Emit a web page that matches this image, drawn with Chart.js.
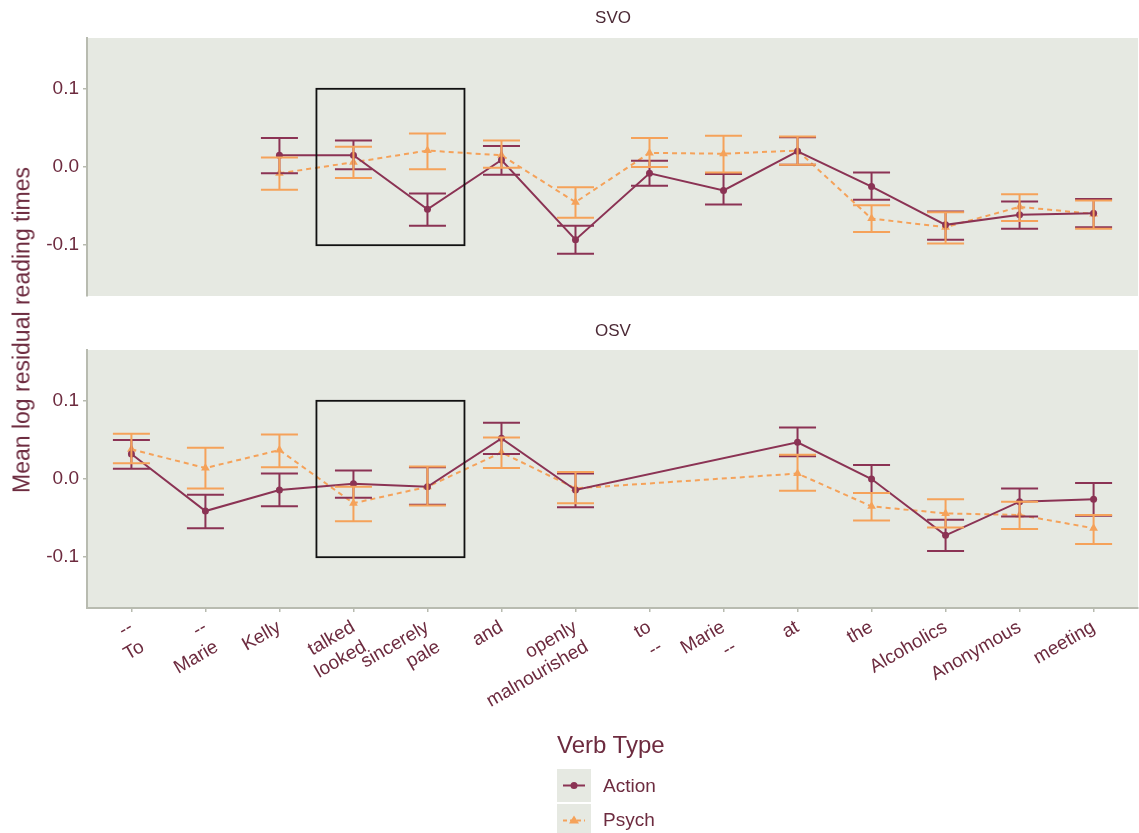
<!DOCTYPE html>
<html>
<head>
<meta charset="utf-8">
<script src="https://cdn.jsdelivr.net/npm/chart.js@4.4.1/dist/chart.umd.min.js"></script>
<style>
  html, body { margin: 0; padding: 0; background: #ffffff; }
  #wrap { position: relative; width: 1139px; height: 833px; overflow: hidden;
          font-family: "Liberation Sans", Arial, sans-serif; }
  #wrap canvas { position: absolute; left: 0; top: 0; }
  .strip { position: absolute; font-size: 17px; color: #4c2a36;
           transform: translate(-50%, -50%); white-space: nowrap; }
  #ytitle { position: absolute; left: 22px; top: 330px; font-size: 23px; color: #6d2b3f;
            transform: translate(-50%, -50%) rotate(-90deg); white-space: nowrap; }
  #legend-title { position: absolute; left: 557px; top: 731px; font-size: 24px; color: #6d2b3f; }
  .key { position: absolute; left: 557px; width: 34px; height: 33px; background: #e6e9e2; }
  .key svg { display: block; }
  .key-label { position: absolute; left: 603px; font-size: 19px; color: #6d2b3f;
               transform: translateY(-50%); }
</style>
</head>
<body>
<div id="wrap">
  <canvas id="svo" width="1139" height="833"></canvas>
  <canvas id="osv" width="1139" height="833"></canvas>
  <div class="strip" style="left:613px;top:18px;">SVO</div>
  <div class="strip" style="left:613px;top:331px;">OSV</div>
  <div id="ytitle">Mean log residual reading times</div>
  <div id="legend-title">Verb Type</div>
  <div class="key" style="top:769px;">
    <svg width="34" height="33">
      <line x1="6" y1="16.5" x2="28" y2="16.5" stroke="#8b3354" stroke-width="2"/>
      <circle cx="17" cy="16.5" r="3.5" fill="#8b3354"/>
    </svg>
  </div>
  <div class="key" style="top:804px;">
    <svg width="34" height="33">
      <line x1="6" y1="16.5" x2="28" y2="16.5" stroke="#f5a25a" stroke-width="2" stroke-dasharray="4,3"/>
      <polygon points="17,11.5 22,19.5 12,19.5" fill="#f5a25a"/>
    </svg>
  </div>
  <div class="key-label" style="top:786px;">Action</div>
  <div class="key-label" style="top:820px;">Psych</div>
</div>

<script>
// Region words (SVO word / OSV word where the two orders differ)
const regionLabels = [
  ["--", "To"], ["--", "Marie"], "Kelly", ["talked", "looked"], ["sincerely", "pale"],
  "and", ["openly", "malnourished"], ["to", "--"], ["Marie", "--"],
  "at", "the", "Alcoholics", "Anonymous", "meeting"
];
const yTicks = [-0.1, 0.0, 0.1];

// SVO condition: means and error-bar limits per region
const svoActionMean = [null, null, 0.015, 0.015, -0.054, 0.009, -0.093, -0.008, -0.030, 0.020, -0.025, -0.074, -0.061, -0.059];
const svoActionLo   = [null, null, -0.008, -0.003, -0.075, -0.010, -0.111, -0.024, -0.048, 0.003, -0.042, -0.093, -0.079, -0.077];
const svoActionHi   = [null, null, 0.037, 0.034, -0.034, 0.027, -0.075, 0.008, -0.009, 0.038, -0.007, -0.057, -0.044, -0.041];
const svoPsychMean  = [null, null, -0.008, 0.006, 0.021, 0.015, -0.045, 0.018, 0.017, 0.021, -0.066, -0.077, -0.051, -0.060];
const svoPsychLo    = [null, null, -0.029, -0.014, -0.003, -0.001, -0.065, 0.000, -0.007, 0.003, -0.083, -0.098, -0.069, -0.079];
const svoPsychHi    = [null, null, 0.012, 0.026, 0.043, 0.034, -0.026, 0.037, 0.040, 0.039, -0.049, -0.058, -0.035, -0.043];

// OSV condition
const osvActionMean = [0.032, -0.041, -0.014, -0.006, -0.010, 0.052, -0.014, null, null, 0.047, 0.000, -0.072, -0.029, -0.026];
const osvActionLo   = [0.013, -0.063, -0.035, -0.024, -0.033, 0.032, -0.036, null, null, 0.029, -0.018, -0.092, -0.048, -0.047];
const osvActionHi   = [0.050, -0.020, 0.007, 0.011, 0.015, 0.072, 0.007, null, null, 0.066, 0.018, -0.052, -0.012, -0.005];
const osvPsychMean  = [0.038, 0.014, 0.037, -0.031, -0.010, 0.034, -0.012, null, null, 0.007, -0.035, -0.044, -0.046, -0.063];
const osvPsychLo    = [0.020, -0.012, 0.015, -0.054, -0.034, 0.014, -0.031, null, null, -0.015, -0.053, -0.062, -0.064, -0.083];
const osvPsychHi    = [0.058, 0.040, 0.057, -0.010, 0.016, 0.053, 0.009, null, null, 0.031, -0.018, -0.026, -0.029, -0.046];

// Highlighted critical region (verb + adverb/adjective), in data units
const boxRegions = [2.5, 4.5];
const boxValues = [-0.1, 0.1];

const ACTION = "#8b3354";
const PSYCH = "#f5a25a";
const TEXT = "#6d2b3f";
const AXIS = "#b8bbb0";
const PANEL = "#e6e9e2";
const FONT = "Liberation Sans, Arial, sans-serif";

function toPoints(values) {
  return values.map((v, i) => ({ x: i, y: v })).filter(p => p.y !== null);
}

const panelBackground = {
  id: "panelBackground",
  beforeDraw(chart) {
    const { ctx, chartArea: a } = chart;
    ctx.save();
    ctx.fillStyle = PANEL;
    ctx.fillRect(a.left, a.top, a.right - a.left, a.bottom - a.top);
    ctx.restore();
  }
};

const errorBars = {
  id: "errorBars",
  afterDatasetsDraw(chart) {
    const { ctx } = chart;
    const xs = chart.scales.x, ys = chart.scales.y;
    const half = 0.25 * (xs.getPixelForValue(1) - xs.getPixelForValue(0));
    ctx.save();
    chart.data.datasets.forEach(ds => {
      ctx.strokeStyle = ds.borderColor;
      ctx.lineWidth = 2;
      ctx.setLineDash([]);
      ds.lo.forEach((lo, i) => {
        const hi = ds.hi[i];
        if (lo === null || hi === null) return;
        const x = xs.getPixelForValue(i);
        const y1 = ys.getPixelForValue(lo), y2 = ys.getPixelForValue(hi);
        ctx.beginPath();
        ctx.moveTo(x, y1); ctx.lineTo(x, y2);
        ctx.moveTo(x - half, y1); ctx.lineTo(x + half, y1);
        ctx.moveTo(x - half, y2); ctx.lineTo(x + half, y2);
        ctx.stroke();
      });
    });
    ctx.restore();
  }
};

const regionBox = {
  id: "regionBox",
  afterDraw(chart) {
    const { ctx } = chart;
    const xs = chart.scales.x, ys = chart.scales.y;
    const x1 = xs.getPixelForValue(boxRegions[0]), x2 = xs.getPixelForValue(boxRegions[1]);
    const y1 = ys.getPixelForValue(boxValues[1]), y2 = ys.getPixelForValue(boxValues[0]);
    ctx.save();
    ctx.strokeStyle = "#111111";
    ctx.lineWidth = 1.8;
    ctx.strokeRect(x1, y1, x2 - x1, y2 - y1);
    ctx.restore();
  }
};

function makeDatasets(aMean, aLo, aHi, pMean, pLo, pHi) {
  return [
    {
      label: "Action", data: toPoints(aMean), lo: aLo, hi: aHi,
      borderColor: ACTION, backgroundColor: ACTION, borderWidth: 2,
      pointStyle: "circle", pointRadius: 3.5, pointBorderWidth: 0,
      tension: 0, spanGaps: true
    },
    {
      label: "Psych", data: toPoints(pMean), lo: pLo, hi: pHi,
      borderColor: PSYCH, backgroundColor: PSYCH, borderWidth: 2, borderDash: [5, 4],
      pointStyle: "triangle", pointRadius: 5, pointBorderWidth: 0,
      tension: 0, spanGaps: true
    }
  ];
}

function makeOptions(showX, padding) {
  return {
    responsive: false,
    animation: false,
    events: [],
    layout: { padding, autoPadding: false },
    plugins: { legend: { display: false }, tooltip: { enabled: false } },
    scales: {
      x: {
        type: "linear",
        display: showX,
        min: -0.6, max: 13.6,
        afterBuildTicks: s => { s.ticks = regionLabels.map((_, i) => ({ value: i })); },
        afterFit: s => { s.height = showX ? 100 : 0; },
        grid: { drawOnChartArea: false, drawTicks: true, tickLength: 4, color: AXIS, lineWidth: 1.5 },
        border: { display: true, color: AXIS, width: 2 },
        ticks: {
          autoSkip: false, minRotation: 30, maxRotation: 30, padding: 4,
          color: TEXT, font: { family: FONT, size: 19 },
          callback: v => regionLabels[v]
        }
      },
      y: {
        min: -0.165, max: 0.165,
        afterBuildTicks: s => { s.ticks = yTicks.map(v => ({ value: v })); },
        afterFit: s => { s.width = 87; },
        grid: { drawOnChartArea: false, drawTicks: true, tickLength: 4, color: AXIS, lineWidth: 1.5 },
        border: { display: true, color: AXIS, width: 2 },
        ticks: {
          padding: 4, color: TEXT, font: { family: FONT, size: 19 },
          callback: v => v.toFixed(1)
        }
      }
    }
  };
}

new Chart(document.getElementById("svo"), {
  type: "line",
  data: { datasets: makeDatasets(svoActionMean, svoActionLo, svoActionHi, svoPsychMean, svoPsychLo, svoPsychHi) },
  options: makeOptions(false, { left: 0, right: 1, top: 38, bottom: 537 }),
  plugins: [panelBackground, errorBars, regionBox]
});

new Chart(document.getElementById("osv"), {
  type: "line",
  data: { datasets: makeDatasets(osvActionMean, osvActionLo, osvActionHi, osvPsychMean, osvPsychLo, osvPsychHi) },
  options: makeOptions(true, { left: 0, right: 1, top: 350, bottom: 125 }),
  plugins: [panelBackground, errorBars, regionBox]
});
</script>
</body>
</html>
